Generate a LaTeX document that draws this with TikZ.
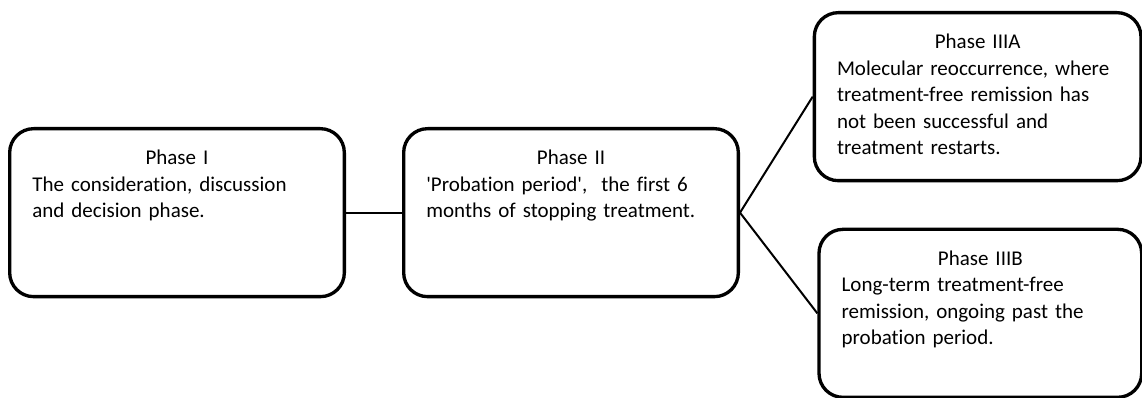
\documentclass[tikz,border=0pt]{standalone}
\usepackage{fontspec}
\setmainfont{Carlito}[Ligatures=NoCommon]
\usepackage{tikz}
\usetikzlibrary{positioning}
\tikzset{
	link/.style={draw=black, line width=1.5pt},
	phasebox/.style={
		rectangle, rounded corners=18pt,
		draw=black, fill=white, line width=2.5pt,
		inner xsep=17pt, inner ysep=16pt,
		text height=11pt, text depth=83pt,
		align=left, font=\fontsize{15.75}{19.9}\selectfont
	}
}
\newcommand{\phasetitle}[1]{{\centering #1\par}}

\begin{document}
\begin{tikzpicture}
	\useasboundingbox (0,0) rectangle (856.5pt,-298.5pt);
	
	%Nodes
	\node[phasebox, text width=217pt, anchor=north west] (phase1) at (6pt,-95.25pt)
		{\phasetitle{Phase I}The consideration, discussion\\and decision phase.};
	\node[phasebox, text width=217pt] (phase2) [right=42pt of phase1]
		{\phasetitle{Phase II}\textquotesingle Probation period\textquotesingle, \ the first 6\\months of stopping treatment.};
	\node[phasebox, text width=211pt] (phase3a) [right=54.5pt of phase2, yshift=87pt]
		{\phasetitle{Phase IIIA}Molecular reoccurrence, where\\treatment-free remission has\\not been successful and\\treatment restarts.};
	\node[phasebox, text width=208pt] (phase3b) [right=58pt of phase2, yshift=-75.5pt]
		{\phasetitle{Phase IIIB}Long-term treatment-free\\remission, ongoing past the\\probation period.};
	
	%Lines
	\draw[link] (phase1.east) -- (phase2.west);
	\draw[link] (phase2.east) -- (phase3a.west);
	\draw[link] (phase2.east) -- (phase3b.west);
\end{tikzpicture}
\end{document}
